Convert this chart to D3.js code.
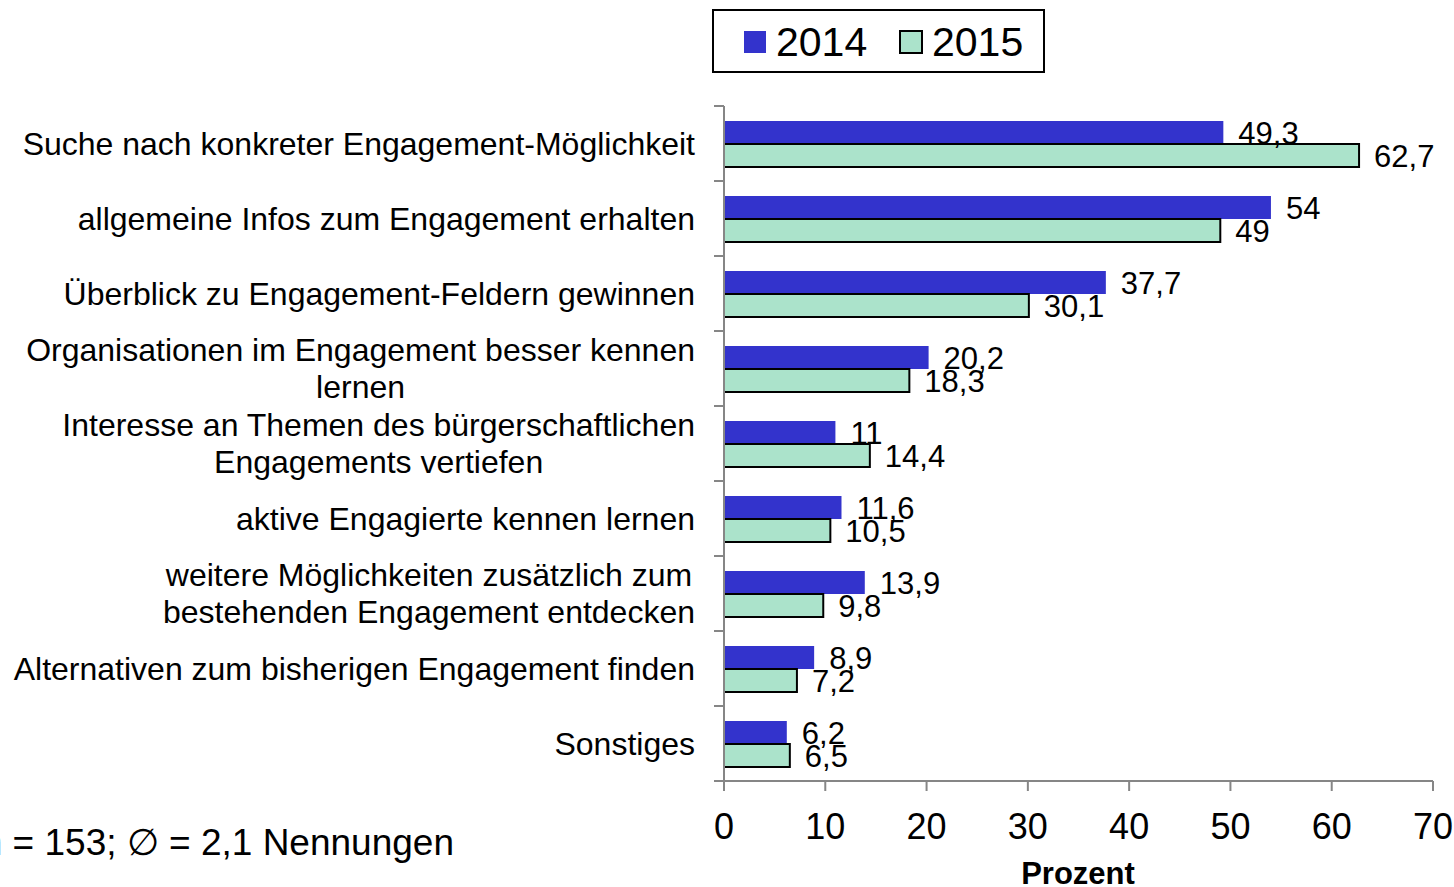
<!DOCTYPE html>
<html>
<head>
<meta charset="utf-8">
<script src="https://cdn.jsdelivr.net/npm/d3@7"></script>
<style>
  body { margin: 0; background: #fff; }
  text { font-family: "Liberation Sans", Arial, sans-serif; fill: #000; }
</style>
</head>
<body>
<div id="chart"></div>
<script>
// chart data
var categories = [
  ["Suche nach konkreter Engagement-Möglichkeit"],
  ["allgemeine Infos zum Engagement erhalten"],
  ["Überblick zu Engagement-Feldern gewinnen"],
  ["Organisationen im Engagement besser kennen", "lernen"],
  ["Interesse an Themen des bürgerschaftlichen", "Engagements vertiefen"],
  ["aktive Engagierte kennen lernen"],
  ["weitere Möglichkeiten zusätzlich zum", "bestehenden Engagement entdecken"],
  ["Alternativen zum bisherigen Engagement finden"],
  ["Sonstiges"]
];
var years = ["2014", "2015"];
var values2014 = [49.3, 54, 37.7, 20.2, 11, 11.6, 13.9, 8.9, 6.2];
var values2015 = [62.7, 49, 30.1, 18.3, 14.4, 10.5, 9.8, 7.2, 6.5];
var xTicks = [0, 10, 20, 30, 40, 50, 60, 70];
var colors = { "2014": "#3333cc", "2015": "#abe3cb" };

var w = 1454,
  h = 887;
var plotLeft = 724,
  plotRight = 1433,
  plotTop = 106,
  plotBottom = 781;

var svg = d3
  .select("#chart")
  .append("svg")
  .attr("width", w)
  .attr("height", h);

var x = d3.scaleLinear().domain([0, 70]).range([plotLeft, plotRight]);
var y = d3
  .scaleBand()
  .domain(d3.range(categories.length))
  .range([plotTop, plotBottom]);
var ySub = d3.scaleBand().domain(years).range([15, 61]);

function fmt(v) {
  return String(v).replace(".", ",");
}

// bars
var rows = categories.map(function(c, i) {
  return { i: i, label: c, vals: [values2014[i], values2015[i]] };
});

var group = svg
  .selectAll(".row")
  .data(rows)
  .enter()
  .append("g")
  .attr("class", "row")
  .attr("transform", function(d) {
    return "translate(0," + y(d.i) + ")";
  });

years.forEach(function(yr, k) {
  group
    .append("rect")
    .attr("x", plotLeft)
    .attr("y", ySub(yr))
    .attr("width", function(d) {
      return x(d.vals[k]) - plotLeft;
    })
    .attr("height", ySub.bandwidth())
    .attr("fill", colors[yr])
    .attr("stroke", k == 1 ? "#000" : "none")
    .attr("stroke-width", 2);
});

// value labels
years.forEach(function(yr, k) {
  group
    .append("text")
    .attr("x", function(d) {
      return x(d.vals[k]) + 15;
    })
    .attr("y", ySub(yr) + ySub.bandwidth() / 2 + 1)
    .attr("dy", "0.35em")
    .attr("font-size", 31)
    .text(function(d) {
      return fmt(d.vals[k]);
    });
});

// category labels (multi-line centred, block right aligned)
group.each(function(d) {
  var g = d3.select(this);
  var lines = d.label;
  var lh = 37;
  var t = g
    .append("text")
    .attr("font-size", 32)
    .attr("text-anchor", "middle");
  var spans = lines.map(function(l, j) {
    return t
      .append("tspan")
      .attr("y", y.bandwidth() / 2 + (j - (lines.length - 1) / 2) * lh)
      .attr("dy", "0.35em")
      .text(l);
  });
  var maxW = d3.max(spans, function(s) {
    return s.node().getComputedTextLength();
  });
  spans.forEach(function(s) {
    s.attr("x", 695 - maxW / 2);
  });
});

// axes
var axisColor = "#868686";
svg
  .append("line")
  .attr("x1", plotLeft)
  .attr("x2", plotLeft)
  .attr("y1", plotTop)
  .attr("y2", plotBottom)
  .attr("stroke", axisColor)
  .attr("stroke-width", 2);
svg
  .append("line")
  .attr("x1", plotLeft)
  .attr("x2", plotRight)
  .attr("y1", plotBottom)
  .attr("y2", plotBottom)
  .attr("stroke", axisColor)
  .attr("stroke-width", 2);

// category separator ticks
svg
  .selectAll(".ctick")
  .data(d3.range(categories.length + 1))
  .enter()
  .append("line")
  .attr("x1", plotLeft - 10)
  .attr("x2", plotLeft)
  .attr("y1", function(d) {
    return plotTop + d * y.step();
  })
  .attr("y2", function(d) {
    return plotTop + d * y.step();
  })
  .attr("stroke", axisColor)
  .attr("stroke-width", 2);

// x ticks
svg
  .selectAll(".xtick")
  .data(xTicks)
  .enter()
  .append("line")
  .attr("x1", x)
  .attr("x2", x)
  .attr("y1", plotBottom)
  .attr("y2", plotBottom + 10)
  .attr("stroke", axisColor)
  .attr("stroke-width", 2);

svg
  .selectAll(".xlabel")
  .data(xTicks)
  .enter()
  .append("text")
  .attr("x", x)
  .attr("y", 826)
  .attr("dy", "0.35em")
  .attr("text-anchor", "middle")
  .attr("font-size", 36)
  .text(function(d) {
    return d;
  });

svg
  .append("text")
  .attr("x", 1078)
  .attr("y", 884)
  .attr("text-anchor", "middle")
  .attr("font-size", 31)
  .attr("font-weight", "bold")
  .text("Prozent");

// note
svg
  .append("text")
  .attr("x", 454)
  .attr("y", 855)
  .attr("text-anchor", "end")
  .attr("font-size", 37)
  .text("n = 153; \u2205 = 2,1 Nennungen");

// legend
var legend = svg.append("g");
legend
  .append("rect")
  .attr("x", 713)
  .attr("y", 10)
  .attr("width", 331)
  .attr("height", 62)
  .attr("fill", "#fff")
  .attr("stroke", "#000")
  .attr("stroke-width", 2);
var legX = [744, 900];
years.forEach(function(yr, k) {
  legend
    .append("rect")
    .attr("x", legX[k])
    .attr("y", 31)
    .attr("width", 22)
    .attr("height", 22)
    .attr("fill", colors[yr])
    .attr("stroke", k == 1 ? "#000" : "none")
    .attr("stroke-width", 2);
  legend
    .append("text")
    .attr("x", legX[k] + 32)
    .attr("y", 42)
    .attr("dy", "0.35em")
    .attr("font-size", 41)
    .text(yr);
});
</script>
</body>
</html>
